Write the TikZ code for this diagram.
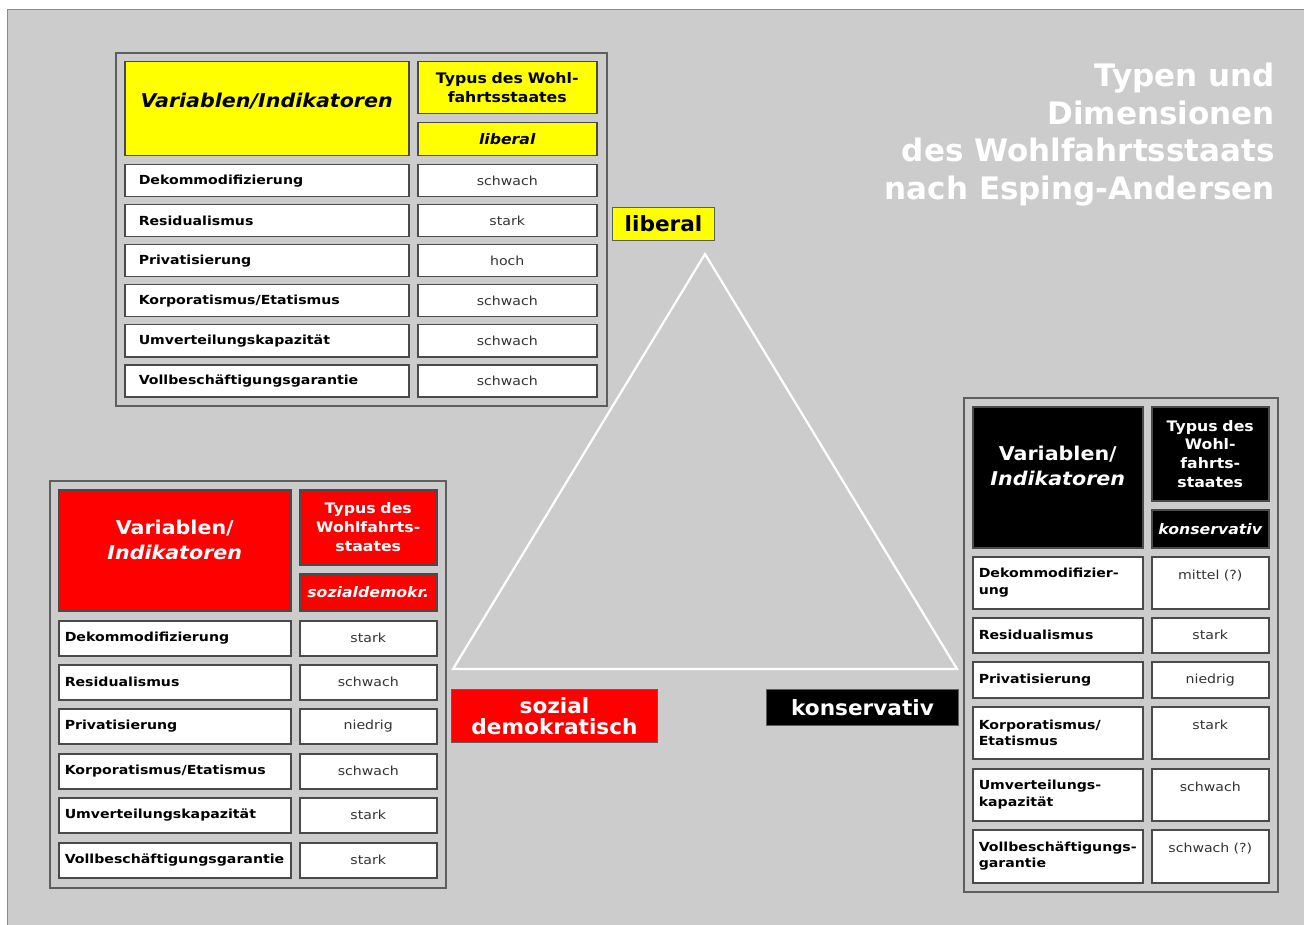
\documentclass[tikz,border=0pt]{standalone}
\usepackage{fontspec}
\setmainfont{DejaVu Sans}
\newfontfamily\cellfont{DejaVu Sans}[FakeStretch=1.13]
\newfontfamily\headfont{DejaVu Sans}[FakeStretch=1.085]
\newfontfamily\labfont{DejaVu Sans}[FakeStretch=1.03]
\definecolor{bg}{HTML}{CCCCCC}
\definecolor{edgeC}{HTML}{8A8A8A}
\definecolor{frameC}{HTML}{5E5E5E}
\definecolor{cellC}{HTML}{4A4A4A}
\definecolor{valC}{HTML}{333333}
\definecolor{yel}{HTML}{FFFF00}
\definecolor{rd}{HTML}{FF0000}
% name, style, x1, y1, x2, y2, padding, text
\newcommand\mkcell[8]{%
  \pgfmathsetmacro\cw{#5-#3}%
  \pgfmathsetmacro\chh{#6-#4}%
  \pgfmathsetmacro\tw{#5-#3-2*#7}%
  \node[#2, anchor=north west, inner xsep=#7pt, minimum width=\cw pt,
        minimum height=\chh pt, text width=\tw pt] (#1) at (#3,#4) {#8};}
\tikzset{
  cellbase/.style={draw=cellC, line width=1.5pt, inner ysep=0pt},
  frame/.style={draw=frameC, line width=1.6pt, fill=bg, inner ysep=0pt},
  lab/.style={cellbase, fill=white, align=left, text=black,
    font=\cellfont\fontsize{12.5}{16.5}\selectfont\bfseries},
  val/.style={cellbase, fill=white, align=center, text=valC,
    font=\cellfont\fontsize{12.5}{16.5}\selectfont},
  bighead/.style={cellbase, align=center,
    font=\headfont\fontsize{19}{24.5}\selectfont\bfseries},
  typhead/.style={cellbase, align=center,
    font=\headfont\fontsize{14.5}{18.7}\selectfont\bfseries},
  typname/.style={cellbase, align=center,
    font=\headfont\fontsize{14.5}{18}\selectfont\bfseries\itshape},
  corner/.style={draw=frameC, line width=1pt, align=center, inner ysep=0pt,
    font=\labfont\fontsize{21}{21}\selectfont\bfseries},
  tri/.style={draw=white, line width=2.2pt, line join=miter}
}
\begin{document}
\begin{tikzpicture}[x=1pt,y=-1pt]
\useasboundingbox (0,0) rectangle (1304,925);
\fill[white] (0,0) rectangle (1304,925);
\filldraw[fill=bg, draw=edgeC, line width=1pt] (1310,931) -- (7.5,931) -- (7.5,9.5) -- (1310,9.5);

% title
\node[anchor=north east, inner sep=0pt, align=right, text=white,
  font=\fontsize{31}{37.5}\selectfont\bfseries] (title) at (1275,63)
  {Typen und\\Dimensionen\\des Wohlfahrtsstaats\\nach Esping-Andersen};

% triangle
\coordinate (apex) at (705,254);
\coordinate (bl) at (453,669);
\coordinate (br) at (957,669);
\draw[tri] (apex) -- (bl) -- (br) -- cycle;

% corner labels
\mkcell{Lliberal}{corner, fill=yel, text=black}{612}{207}{714}{240}{2}{liberal}
\mkcell{Lsozial}{corner, fill=rd, text=white}{451}{689}{657}{742}{2}{sozial\\demokratisch}
\mkcell{Lkons}{corner, fill=black, text=white}{766}{689}{958}{725}{2}{konservativ}

% ===== liberal table =====
\mkcell{Fa}{frame}{115}{52}{606}{405}{0}{}
\mkcell{Ha}{bighead, fill=yel, text=black}{124}{61}{408}{155}{4}{\raisebox{8pt}[\height][\depth]{\itshape Variablen/Indikatoren}}
\mkcell{Ta}{typhead, fill=yel, text=black}{417}{61}{596}{113}{4}{Typus des Wohl-\\fahrtsstaates}
\mkcell{Na}{typname, fill=yel, text=black}{417}{122}{596}{155}{4}{liberal}
\mkcell{a1}{lab}{124}{164}{408}{196}{14}{Dekommodifizierung}
\mkcell{b1}{val}{417}{164}{596}{196}{6}{schwach}
\mkcell{a2}{lab}{124}{204}{408}{236}{14}{Residualismus}
\mkcell{b2}{val}{417}{204}{596}{236}{6}{stark}
\mkcell{a3}{lab}{124}{244}{408}{276}{14}{Privatisierung}
\mkcell{b3}{val}{417}{244}{596}{276}{6}{hoch}
\mkcell{a4}{lab}{124}{284}{408}{316}{14}{Korporatismus/Etatismus}
\mkcell{b4}{val}{417}{284}{596}{316}{6}{schwach}
\mkcell{a5}{lab}{124}{324}{408}{356}{14}{Umverteilungskapazität}
\mkcell{b5}{val}{417}{324}{596}{356}{6}{schwach}
\mkcell{a6}{lab}{124}{364}{408}{396}{14}{Vollbeschäftigungsgarantie}
\mkcell{b6}{val}{417}{364}{596}{396}{6}{schwach}

% ===== sozialdemokratisch table =====
\mkcell{Fb}{frame}{49}{480}{445}{887}{0}{}
\mkcell{Hb}{bighead, fill=rd, text=white}{58}{489}{290}{610}{4}{\raisebox{8pt}[\height][\depth]{\begin{tabular}{@{}c@{}}Variablen/\\\itshape Indikatoren\end{tabular}}}
\mkcell{Tb}{typhead, fill=rd, text=white}{299}{489}{436}{564}{4}{Typus des\\Wohlfahrts-\\staates}
\mkcell{Nb}{typname, fill=rd, text=white}{299}{573}{436}{610}{2}{sozialdemokr.}
\mkcell{c1}{lab}{58}{620}{290}{655}{6}{Dekommodifizierung}
\mkcell{d1}{val}{299}{620}{436}{655}{6}{stark}
\mkcell{c2}{lab}{58}{664}{290}{699}{6}{Residualismus}
\mkcell{d2}{val}{299}{664}{436}{699}{6}{schwach}
\mkcell{c3}{lab}{58}{708}{290}{743}{6}{Privatisierung}
\mkcell{d3}{val}{299}{708}{436}{743}{6}{niedrig}
\mkcell{c4}{lab}{58}{753}{290}{788}{6}{Korporatismus/Etatismus}
\mkcell{d4}{val}{299}{753}{436}{788}{6}{schwach}
\mkcell{c5}{lab}{58}{797}{290}{832}{6}{Umverteilungskapazität}
\mkcell{d5}{val}{299}{797}{436}{832}{6}{stark}
\mkcell{c6}{lab}{58}{842}{290}{877}{6}{Vollbeschäftigungsgarantie}
\mkcell{d6}{val}{299}{842}{436}{877}{6}{stark}

% ===== konservativ table =====
\mkcell{Fc}{frame}{963}{397}{1277}{891}{0}{}
\mkcell{Hc}{bighead, fill=black, text=white}{972}{406}{1142}{547}{4}{\raisebox{9pt}[\height][\depth]{\begin{tabular}{@{}c@{}}Variablen/\\\itshape Indikatoren\end{tabular}}}
\mkcell{Tc}{typhead, fill=black, text=white}{1151}{406}{1268}{500}{4}{Typus des\\Wohl-\\fahrts-\\staates}
\mkcell{Nc}{typname, fill=black, text=white}{1151}{509}{1268}{547}{2}{konservativ}
\mkcell{e1}{lab}{972}{556}{1142}{608}{6}{Dekommodifizier-\\ung}
\mkcell{f1}{val}{1151}{556}{1268}{608}{4}{mittel (?)\\\phantom{x}}
\mkcell{e2}{lab}{972}{617}{1142}{652}{6}{Residualismus}
\mkcell{f2}{val}{1151}{617}{1268}{652}{4}{stark}
\mkcell{e3}{lab}{972}{661}{1142}{697}{6}{Privatisierung}
\mkcell{f3}{val}{1151}{661}{1268}{697}{4}{niedrig}
\mkcell{e4}{lab}{972}{706}{1142}{758}{6}{Korporatismus/\\Etatismus}
\mkcell{f4}{val}{1151}{706}{1268}{758}{4}{stark\\\phantom{x}}
\mkcell{e5}{lab}{972}{768}{1142}{820}{6}{Umverteilungs-\\kapazität}
\mkcell{f5}{val}{1151}{768}{1268}{820}{4}{schwach\\\phantom{x}}
\mkcell{e6}{lab}{972}{829}{1142}{882}{6}{Vollbeschäftigungs-\\garantie}
\mkcell{f6}{val}{1151}{829}{1268}{882}{4}{schwach (?)\\\phantom{x}}
\end{tikzpicture}
\end{document}
